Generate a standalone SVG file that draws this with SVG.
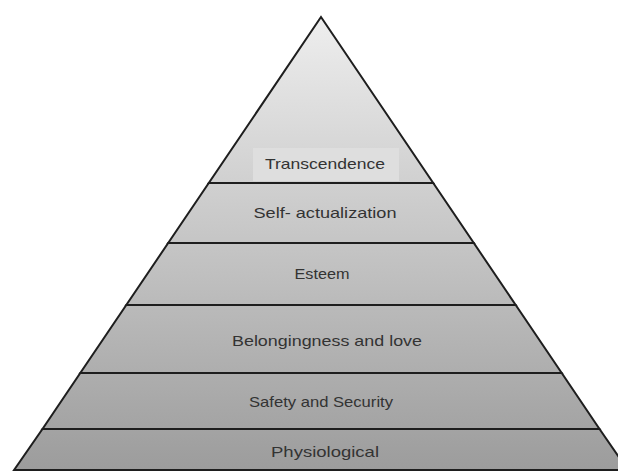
<svg xmlns="http://www.w3.org/2000/svg" width="618" height="471" viewBox="0 0 618 471">
<defs>
<linearGradient id="g" gradientUnits="userSpaceOnUse" x1="0" y1="17" x2="0" y2="471">
<stop offset="0" stop-color="#eeeeee"/>
<stop offset="1" stop-color="#9c9c9c"/>
</linearGradient>
</defs>
<style>
.band{fill:url(#g);stroke:#1e1e1e;stroke-width:2;stroke-linejoin:miter}
.lbl{font-family:"Liberation Sans",Arial,sans-serif;font-size:15px;fill:#333;text-anchor:middle}
</style>
<rect width="618" height="471" fill="#ffffff"/>
<g id="transcendence">
<polygon class="band" points="321,17 433.2,183 208.8,183"/>
<rect x="253" y="148" width="146" height="33" fill="#dedede"/>
<text class="lbl" x="325" y="169" textLength="120" lengthAdjust="spacingAndGlyphs">Transcendence</text>
</g>
<g id="self-actualization">
<polygon class="band" points="208.8,183 433.2,183 473.8,243 168.2,243"/>
<text class="lbl" x="325" y="218" textLength="143" lengthAdjust="spacingAndGlyphs">Self- actualization</text>
</g>
<g id="esteem">
<polygon class="band" points="168.2,243 473.8,243 515.7,305 126.3,305"/>
<text class="lbl" x="322" y="279" textLength="55" lengthAdjust="spacingAndGlyphs">Esteem</text>
</g>
<g id="belongingness">
<polygon class="band" points="126.3,305 515.7,305 561.7,373 80.3,373"/>
<text class="lbl" x="327" y="346" textLength="190" lengthAdjust="spacingAndGlyphs">Belongingness and love</text>
</g>
<g id="safety">
<polygon class="band" points="80.3,373 561.7,373 599.5,429 42.5,429"/>
<text class="lbl" x="321" y="407" textLength="144" lengthAdjust="spacingAndGlyphs">Safety and Security</text>
</g>
<g id="physiological">
<polygon class="band" points="42.5,429 599.5,429 627.9,470 14.1,470"/>
<text class="lbl" x="325" y="457" textLength="108" lengthAdjust="spacingAndGlyphs">Physiological</text>
</g>
<g id="connectors"></g>
</svg>
